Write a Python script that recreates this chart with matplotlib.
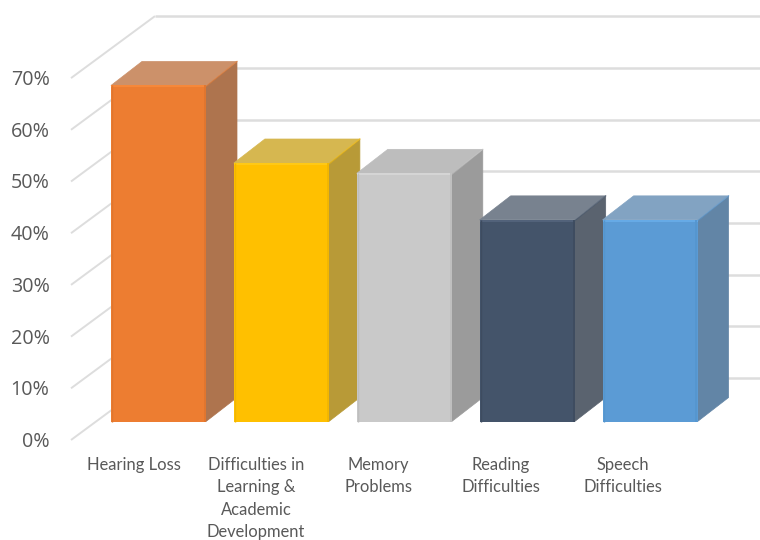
import matplotlib
matplotlib.use("Agg")
import matplotlib.pyplot as plt
from matplotlib.patches import Polygon

categories = ["Hearing Loss", "Difficulties in\nLearning &\nAcademic\nDevelopment",
              "Memory\nProblems", "Reading\nDifficulties", "Speech\nDifficulties"]
values = [65, 50, 48, 39, 39]
front_colors = ["#ED7D31", "#FFC000", "#C9C9C9", "#44546A", "#5B9BD5"]
top_colors = ["#CC916A", "#D6B750", "#BDBDBD", "#78828F", "#82A3C2"]
side_colors = ["#AE744E", "#B89A37", "#9B9B9B", "#5A636F", "#6285A6"]
highlight_colors = ["#F88B3C", "#FFCB1A", "#D8D8D8", "#55667E", "#69AEEA"]
shade_colors = ["#E0762E", "#F2B600", "#BEBEBE", "#3E4C60", "#5596CF"]
y_ticks = [0, 10, 20, 30, 40, 50, 60, 70]

W, H = 760, 540
PX_PER_PCT = 5.17
BAR_STEP = 122.9
BAR_HALF = 47.5 / BAR_STEP
FIRST_CENTER = 158.5
BASE_ROW = 421.5
LABEL_BASELINE = 470
LABEL_LEADING = 22.3

fig = plt.figure(figsize=(W / 100, H / 100), dpi=100, facecolor="white")
ax = fig.add_axes([0, 0, 1, 1])
ax.set_xlim(-FIRST_CENTER / BAR_STEP, (W - FIRST_CENTER) / BAR_STEP)
ax.set_ylim((BASE_ROW - H) / PX_PER_PCT, BASE_ROW / PX_PER_PCT)
ax.axis("off")


def px_x(n):
    return n / BAR_STEP


def px_y(n):
    return n / PX_PER_PCT


# Depth shear of the oblique projection
BAR_DX, BAR_DY = px_x(31), px_y(24)
FLOOR_FRONT_X, FLOOR_FRONT_Y = px_x(71 - FIRST_CENTER), px_y(-18.5)
WALL_DX, WALL_DY = px_x(84), px_y(62)
GRID = "#DDDDDD"

# Side wall and back wall gridlines
for t in y_ticks:
    y0 = t + FLOOR_FRONT_Y
    ax.plot([FLOOR_FRONT_X, FLOOR_FRONT_X + WALL_DX], [y0, y0 + WALL_DY],
            color=GRID, lw=1.4, solid_capstyle="butt", zorder=1)
    ax.plot([FLOOR_FRONT_X + WALL_DX, ax.get_xlim()[1]], [y0 + WALL_DY] * 2,
            color=GRID, lw=1.8, solid_capstyle="butt", zorder=1)
    ax.text(px_x(49.5 - FIRST_CENTER), y0 - px_y(2), f"{t}%", ha="right", va="center",
            fontsize=14.2, family="Open Sans", color="#595959")

# Bars, drawn from left to right so each front hides the previous side face
for i, v in enumerate(values):
    l, r = i - BAR_HALF, i + BAR_HALF
    z = 3 + i
    ax.add_patch(Polygon([(r, 0), (r + BAR_DX, BAR_DY), (r + BAR_DX, v + BAR_DY), (r, v)],
                         closed=True, fc=side_colors[i], ec=side_colors[i], lw=0.5,
                         joinstyle="round", zorder=z))
    ax.add_patch(Polygon([(l, v), (r, v), (r + BAR_DX, v + BAR_DY), (l + BAR_DX, v + BAR_DY)],
                         closed=True, fc=top_colors[i], ec=top_colors[i], lw=0.5,
                         joinstyle="round", zorder=z))
    ax.add_patch(Polygon([(l, 0), (r, 0), (r, v), (l, v)],
                         closed=True, fc=front_colors[i], ec="none", zorder=z))
    # Soft bevel along the front edges
    ax.plot([l, r], [v - px_y(1), v - px_y(1)], color=highlight_colors[i], lw=1.2, zorder=z,
            solid_capstyle="butt")
    ax.plot([l + px_x(1), l + px_x(1)], [0, v], color=shade_colors[i], lw=1.0, zorder=z,
            solid_capstyle="butt")
    ax.plot([r - px_x(1.2), r - px_x(1.2)], [0, v], color=shade_colors[i], lw=1.3, zorder=z,
            solid_capstyle="butt")
    ax.plot([r + px_x(.5), r + BAR_DX], [v - px_y(.5), v + BAR_DY], color=front_colors[i],
            lw=1.0, alpha=.45, zorder=z)
    # Category labels, one text per line for an even leading
    for row, line in enumerate(categories[i].split("\n")):
        baseline = LABEL_BASELINE + row * LABEL_LEADING
        ax.text(i * 0.996 - px_x(25), px_y(BASE_ROW - baseline), line, ha="center",
                va="baseline", fontsize=11.9, family="Lato", color="#595959", zorder=10)

fig.savefig("out.png", dpi=100, facecolor="white")
